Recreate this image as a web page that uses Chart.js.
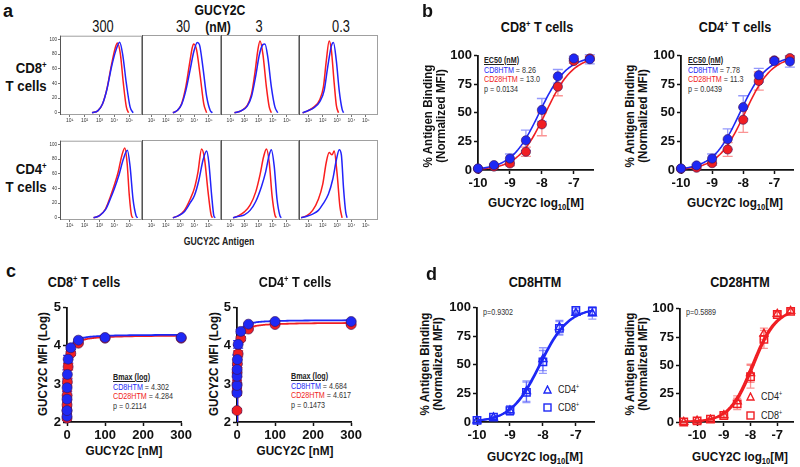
<!DOCTYPE html>
<html>
<head>
<meta charset="utf-8">
<script src="https://cdn.jsdelivr.net/npm/chart.js@4.4.1/dist/chart.umd.min.js"></script>
<style>
  body { margin: 0; width: 800px; height: 467px; overflow: hidden; position: relative; background: #fff;
         font-family: "Liberation Sans", Arial, sans-serif; color: #111; }
  canvas { position: absolute; }
  .t { position: absolute; white-space: nowrap; transform: translate(-50%, -50%) scaleX(0.87); font-weight: bold; line-height: 1; }
  .lt { position: absolute; font-weight: bold; font-size: 18px; line-height: 1; }
  .yt { position: absolute; white-space: nowrap; transform: translate(-50%, -50%) rotate(-90deg) scaleX(0.86); text-align: center;
        font-weight: bold; font-size: 13.5px; line-height: 12.5px; }
  .ann { position: absolute; white-space: nowrap; font-size: 9.2px; line-height: 9.6px; color: #333;
         transform-origin: left top; transform: scaleX(0.78); }
  .ann u { color: #222; font-weight: bold; }
  .b { color: rgb(30, 40, 245); }
  .r { color: rgb(240, 30, 35); }
  sup { font-size: 0.6em; vertical-align: 0.6em; line-height: 0; }
  sub { font-size: 0.65em; vertical-align: -0.35em; line-height: 0; }
  .rowlab { position: absolute; right: 753px; text-align: right; font-weight: bold; font-size: 15px; line-height: 18px;
            white-space: nowrap; transform-origin: right top; transform: scaleX(0.88); }
  .num { font-size: 16px; font-weight: normal; transform: translate(-50%, -50%) scaleX(0.8); }
</style>
</head>
<body>

<!-- panel a -->
<div class="lt" style="left:3px;top:2px">a</div>
<div class="t" style="left:220px;top:10px;font-size:14px">GUCY2C</div>
<div class="t" style="left:218px;top:27px;font-size:14px">(nM)</div>
<div class="t num" style="left:103px;top:27px">300</div>
<div class="t num" style="left:183px;top:27px">30</div>
<div class="t num" style="left:259px;top:27px">3</div>
<div class="t num" style="left:341px;top:27px">0.3</div>
<div class="rowlab" style="top:59px">CD8<sup>+</sup><br>T cells</div>
<div class="rowlab" style="top:160px">CD4<sup>+</sup><br>T cells</div>
<div class="t" style="left:219px;top:242px;font-size:10px;color:#222">GUCY2C Antigen</div>

<canvas id="h11"></canvas><canvas id="h12"></canvas><canvas id="h13"></canvas><canvas id="h14"></canvas>
<canvas id="h21"></canvas><canvas id="h22"></canvas><canvas id="h23"></canvas><canvas id="h24"></canvas>

<!-- panel b -->
<div class="lt" style="left:422px;top:2px">b</div>
<div class="t" style="left:537px;top:27px;font-size:14.5px">CD8<sup>+</sup> T cells</div>
<div class="t" style="left:735px;top:27px;font-size:14.5px">CD4<sup>+</sup> T cells</div>
<div class="yt" style="left:434px;top:116px">% Antigen Binding<br>(Normalized MFI)</div>
<div class="yt" style="left:636px;top:116px">% Antigen Binding<br>(Normalized MFI)</div>
<div class="t" style="left:536px;top:203px;font-size:13.5px">GUCY2C log<sub>10</sub>[M]</div>
<div class="t" style="left:735px;top:203px;font-size:13.5px">GUCY2C log<sub>10</sub>[M]</div>
<div class="ann" style="left:484px;top:56px"><u>EC50 (nM)</u><br><span class="b">CD8HTM</span> = 8.26<br><span class="r">CD28HTM</span> = 13.0<br>p = 0.0134</div>
<div class="ann" style="left:688px;top:56px"><u>EC50 (nM)</u><br><span class="b">CD8HTM</span> = 7.78<br><span class="r">CD28HTM</span> = 11.3<br>p = 0.0439</div>
<canvas id="b1"></canvas><canvas id="b2"></canvas>

<!-- panel c -->
<div class="lt" style="left:6px;top:262px">c</div>
<div class="t" style="left:84px;top:282px;font-size:14.5px">CD8<sup>+</sup> T cells</div>
<div class="t" style="left:295px;top:282px;font-size:14.5px">CD4<sup>+</sup> T cells</div>
<div class="yt" style="left:43px;top:364px">GUCY2C MFI (Log)</div>
<div class="yt" style="left:214px;top:364px">GUCY2C MFI (Log)</div>
<div class="t" style="left:124px;top:451px;font-size:13.5px">GUCY2C [nM]</div>
<div class="t" style="left:295px;top:451px;font-size:13.5px">GUCY2C [nM]</div>
<div class="ann" style="left:113px;top:373px"><u>Bmax (log)</u><br><span class="b">CD8HTM</span> = 4.302<br><span class="r">CD28HTM</span> = 4.284<br>p = 0.2114</div>
<div class="ann" style="left:291px;top:372px"><u>Bmax (log)</u><br><span class="b">CD8HTM</span> = 4.684<br><span class="r">CD28HTM</span> = 4.617<br>p = 0.1473</div>
<canvas id="c1"></canvas><canvas id="c2"></canvas>

<!-- panel d -->
<div class="lt" style="left:426px;top:265px">d</div>
<div class="t" style="left:535px;top:282px;font-size:14.5px">CD8HTM</div>
<div class="t" style="left:740px;top:282px;font-size:14.5px">CD28HTM</div>
<div class="yt" style="left:431px;top:364px">% Antigen Binding<br>(Normalized MFI)</div>
<div class="yt" style="left:636px;top:364px">% Antigen Binding<br>(Normalized MFI)</div>
<div class="t" style="left:535px;top:457px;font-size:13.5px">GUCY2C log<sub>10</sub>[M]</div>
<div class="t" style="left:740px;top:457px;font-size:13.5px">GUCY2C log<sub>10</sub>[M]</div>
<div class="ann" style="left:483px;top:308px">p=0.9302</div>
<div class="ann" style="left:686px;top:308px">p=0.5889</div>

<svg style="position:absolute;left:543px;top:385px" width="9" height="9"><polygon points="4.5,1 8,8 1,8" fill="none" stroke="rgb(30,40,245)" stroke-width="1.4"/></svg>
<div class="ann" style="left:558px;top:383px;font-size:11.5px;line-height:12px;color:#222">CD4<sup>+</sup></div>
<svg style="position:absolute;left:543px;top:403px" width="9" height="9"><rect x="1" y="1" width="7" height="7" fill="none" stroke="rgb(30,40,245)" stroke-width="1.4"/></svg>
<div class="ann" style="left:558px;top:401px;font-size:11.5px;line-height:12px;color:#222">CD8<sup>+</sup></div>

<svg style="position:absolute;left:746px;top:392px" width="9" height="9"><polygon points="4.5,1 8,8 1,8" fill="none" stroke="rgb(240,30,35)" stroke-width="1.4"/></svg>
<div class="ann" style="left:761px;top:390px;font-size:11.5px;line-height:12px;color:#222">CD4<sup>+</sup></div>
<svg style="position:absolute;left:746px;top:411px" width="9" height="9"><rect x="1" y="1" width="7" height="7" fill="none" stroke="rgb(240,30,35)" stroke-width="1.4"/></svg>
<div class="ann" style="left:761px;top:409px;font-size:11.5px;line-height:12px;color:#222">CD8<sup>+</sup></div>
<canvas id="d1"></canvas><canvas id="d2"></canvas>

<script>
  // ---- panel a: flow histograms, points are [log10 fluorescence, % of max]
  // one entry per column: 300, 30, 3, 0.3 nM GUCY2C
  const histTicks = [1, 2, 3, 4, 5];
  const histTickLabels = ['10¹', '10²', '10³', '10⁴', '10⁵'];
  const histPctTicks = [0, 20, 40, 60, 80, 100];

  const histCD8cellsCD28HTM = [
    [[2.5,0],[2.9,3],[3.2,12],[3.5,33],[3.8,65],[4.05,88],[4.2,95],[4.4,80],[4.6,40],[4.8,8],[4.95,0]],
    [[2.5,0],[2.8,3],[3.1,12],[3.4,35],[3.65,65],[3.85,88],[3.95,93],[4.15,85],[4.4,50],[4.65,12],[4.85,0]],
    [[1.3,0],[1.8,3],[2.2,10],[2.5,25],[2.75,55],[2.95,85],[3.1,97],[3.3,80],[3.55,35],[3.75,8],[3.9,0]],
    [[0.6,0],[1.0,3],[1.4,8],[1.8,18],[2.05,35],[2.25,70],[2.45,97],[2.6,85],[2.8,40],[2.95,10],[3.1,0]]
  ];
  const histCD8cellsCD8HTM = [
    [[2.5,0],[2.9,3],[3.2,12],[3.5,32],[3.8,62],[4.1,85],[4.35,96],[4.55,80],[4.8,40],[5.05,8],[5.25,0]],
    [[2.5,0],[2.8,3],[3.1,11],[3.4,30],[3.7,58],[3.95,82],[4.2,95],[4.35,92],[4.6,60],[4.85,22],[5.1,3],[5.25,0]],
    [[1.3,0],[1.8,3],[2.2,9],[2.5,22],[2.8,50],[3.05,78],[3.3,92],[3.45,93],[3.65,75],[3.9,35],[4.15,8],[4.35,0]],
    [[0.6,0],[1.0,3],[1.4,7],[1.8,15],[2.1,30],[2.35,62],[2.6,90],[2.75,95],[2.95,70],[3.15,30],[3.35,5],[3.45,0]]
  ];
  const histCD4cellsCD28HTM = [
    [[2.6,0],[3.0,3],[3.4,12],[3.75,30],[4.0,45],[4.25,62],[4.5,85],[4.7,95],[4.85,75],[5.0,30],[5.15,3],[5.25,0]],
    [[2.5,0],[2.9,3],[3.3,10],[3.7,25],[4.0,40],[4.25,62],[4.5,93],[4.7,80],[4.95,35],[5.15,5],[5.25,0]],
    [[1.2,0],[1.6,3],[2.0,8],[2.4,17],[2.8,35],[3.1,58],[3.35,82],[3.55,93],[3.75,75],[3.95,30],[4.15,4],[4.25,0]],
    [[0.5,0],[0.9,3],[1.3,10],[1.7,25],[2.0,45],[2.25,75],[2.45,88],[2.65,85],[2.8,90],[3.0,60],[3.2,15],[3.35,0]]
  ];
  const histCD4cellsCD8HTM = [
    [[2.6,0],[3.0,3],[3.4,11],[3.75,27],[4.0,40],[4.3,58],[4.6,80],[4.87,92],[5.05,70],[5.25,25],[5.45,3],[5.55,0]],
    [[2.5,0],[2.9,3],[3.3,8],[3.7,20],[4.0,30],[4.3,50],[4.6,78],[4.85,90],[5.0,75],[5.2,30],[5.35,3],[5.45,0]],
    [[1.2,0],[1.6,2],[2.0,4],[2.4,10],[2.8,22],[3.2,42],[3.5,62],[3.75,85],[3.9,92],[4.1,70],[4.3,25],[4.5,3],[4.6,0]],
    [[0.5,0],[0.9,2],[1.3,5],[1.7,10],[2.0,18],[2.4,32],[2.7,52],[2.95,78],[3.15,92],[3.3,85],[3.45,40],[3.6,8],[3.7,0]]
  ];

  // ---- panels b/d: antigen binding vs log10 concentration
  const logConc = [-10, -9.5, -9, -8.5, -8, -7.5, -7, -6.5];
  const cd8cellsCD8HTM     = [1.4, 4.3, 10, 26, 52.6, 82, 97.7, 97];
  const cd8cellsCD8HTMerr  = [0.5, 1, 4, 9, 10, 6, 2, 4];
  const cd8cellsCD28HTM    = [1, 3, 5.7, 16, 40, 73, 95.4, 97.7];
  const cd8cellsCD28HTMerr = [0.5, 1, 2, 4, 10, 8, 2, 2];
  const cd4cellsCD8HTM     = [1.4, 4, 10, 27, 55, 83, 95.5, 95];
  const cd4cellsCD8HTMerr  = [0.5, 1, 4, 9, 10, 6, 2, 5];
  const cd4cellsCD28HTM    = [1, 2, 6, 18, 44, 78, 96, 98];
  const cd4cellsCD28HTMerr = [0.5, 1, 2, 6, 11, 8, 2, 2];
  // panel d (CD28HTM) also has a 0.03 nM point
  const logConcD2 = [-10.5, -10, -9.5, -9, -8.5, -8, -7.5, -7, -6.5];
  const d2cd8cells    = [0, 1, 2.5, 5.7, 16, 40, 73, 95, 97.7];
  const d2cd8cellsErr = [0.3, 0.5, 1, 2, 5, 10, 8, 2, 2];
  const d2cd4cells    = [0, 1, 2, 6, 18, 43, 78, 95.5, 98];
  const d2cd4cellsErr = [0.3, 0.5, 1, 2, 5, 8, 5, 2, 2];
  // fitted EC50 (nM): [CD8HTM, CD28HTM]
  const ec50CD8cells = [8.26, 13.0];
  const ec50CD4cells = [7.78, 11.3];

  // ---- panel c: MFI (log) vs concentration
  const concNM = [0.01, 0.03, 0.1, 0.3, 1, 3, 10, 30, 100, 300];
  const mfiCD8cellsCD8HTM  = [2.15, 2.3, 2.6, 2.9, 3.25, 3.65, 3.95, 4.15, 4.22, 4.22];
  const mfiCD8cellsCD28HTM = [2.1, 2.3, 2.45, 2.7, 3.05, 3.45, 3.8, 4.07, 4.2, 4.2];
  const mfiCD4cellsCD8HTM  = [2.76, 2.96, 3.2, 3.38, 3.64, 4.04, 4.38, 4.57, 4.64, 4.64];
  const mfiCD4cellsCD28HTM = [2.3, 2.8, 3.0, 3.3, 3.53, 3.79, 4.19, 4.44, 4.56, 4.56];
  const mfiErrBlue = [0.05, 0.08, 0.1, 0.1, 0.12, 0.1, 0.05, 0.02, 0.02, 0.02];
  const mfiErrRed  = [0.05, 0.1, 0.1, 0.12, 0.1, 0.08, 0.05, 0.02, 0.02, 0.02];
  // one-site fit: Bmax from the figure, Kd (nM) estimated
  const bmaxCD8cells = [4.302, 4.284];
  const bmaxCD4cells = [4.684, 4.617];
  const kdCD8cells = [0.89, 1.27];
  const kdCD4cells = [0.69, 1.02];

  const BLUE = 'rgb(30,40,245)', RED = 'rgb(240,30,35)';
  const BLUE_E = 'rgba(60,70,250,0.55)', RED_E = 'rgba(245,60,60,0.55)';

  Chart.defaults.font.family = '"Liberation Sans", Arial, sans-serif';
  Chart.defaults.color = '#111';

  function place(id, area, pad) {
    const c = document.getElementById(id);
    const w = area[2] - area[0] + pad[0] + pad[2];
    const h = area[3] - area[1] + pad[1] + pad[3];
    c.style.left = (area[0] - pad[0]) + 'px';
    c.style.top = (area[1] - pad[1]) + 'px';
    c.width = w; c.height = h;
    c.style.width = w + 'px'; c.style.height = h + 'px';
    return c;
  }

  const frame = {
    id: 'frame',
    afterDraw(chart) {
      const a = chart.chartArea, ctx = chart.ctx;
      ctx.save();
      ctx.strokeStyle = '#a0a0a0'; ctx.lineWidth = 1;
      ctx.strokeRect(a.left + 0.5, a.top + 0.5, a.width - 1, a.height - 1);
      ctx.strokeStyle = '#555';
      ctx.beginPath(); ctx.moveTo(a.left + 0.5, a.top); ctx.lineTo(a.left + 0.5, a.bottom); ctx.stroke();
      ctx.restore();
    }
  };

  const errorBars = {
    id: 'errorBars',
    beforeDatasetsDraw(chart) {
      const ctx = chart.ctx, ys = chart.scales.y;
      chart.data.datasets.forEach((ds, i) => {
        if (!ds.errors) return;
        const meta = chart.getDatasetMeta(i);
        ctx.save();
        ctx.strokeStyle = ds.errColor; ctx.lineWidth = 1.3;
        meta.data.forEach((pt, j) => {
          const e = ds.errors[j];
          if (!e) return;
          const v = ds.data[j].y;
          const y1 = ys.getPixelForValue(v + e), y2 = ys.getPixelForValue(v - e);
          const cw = ds.capHalf;
          ctx.beginPath();
          ctx.moveTo(pt.x, y1); ctx.lineTo(pt.x, y2);
          ctx.moveTo(pt.x - cw, y1); ctx.lineTo(pt.x + cw, y1);
          ctx.moveTo(pt.x - cw, y2); ctx.lineTo(pt.x + cw, y2);
          ctx.stroke();
        });
        ctx.restore();
      });
    }
  };

  function histLine(pts, color) {
    return {
      data: pts.map(p => ({ x: p[0], y: p[1] })),
      showLine: true, pointRadius: 0, borderColor: color, borderWidth: 1.5,
      cubicInterpolationMode: 'monotone', fill: false
    };
  }

  function histChart(id, area, showY, red, blue) {
    const pad = [showY ? 12 : 0, 3, 1, 12];
    const c = place(id, area, pad);
    new Chart(c, {
      type: 'scatter',
      data: { datasets: [histLine(blue, 'rgb(35,35,250)'), histLine(red, 'rgb(250,30,30)')] },
      options: {
        responsive: false, animation: false,
        layout: { padding: { left: 0, top: pad[1], right: pad[2], bottom: 0 } },
        plugins: { legend: { display: false }, tooltip: { enabled: false } },
        scales: {
          x: {
            min: 0.35, max: 5.85,
            afterFit: s => { s.height = pad[3]; },
            afterBuildTicks: s => { s.ticks = histTicks.map(v => ({ value: v })); },
            grid: { drawOnChartArea: false, tickLength: 2, color: '#777' },
            border: { display: false },
            ticks: { font: { size: 5 }, padding: 1, color: '#333', maxRotation: 0, autoSkip: false,
                     callback: v => histTickLabels[histTicks.indexOf(v)] }
          },
          y: {
            display: showY, min: -3, max: 105,
            afterFit: s => { s.width = pad[0]; },
            afterBuildTicks: s => { s.ticks = histPctTicks.map(v => ({ value: v })); },
            grid: { drawOnChartArea: false, tickLength: 2, color: '#777' },
            border: { display: false },
            ticks: { font: { size: 4.5 }, padding: 1, color: '#333' }
          }
        }
      },
      plugins: [frame]
    });
  }

  const histCols = [[60, 142], [142, 221], [221, 299], [299, 378]];
  ['h11', 'h12', 'h13', 'h14'].forEach((id, k) =>
    histChart(id, [histCols[k][0], 35, histCols[k][1], 115], k === 0, histCD8cellsCD28HTM[k], histCD8cellsCD8HTM[k]));
  ['h21', 'h22', 'h23', 'h24'].forEach((id, k) =>
    histChart(id, [histCols[k][0], 140, histCols[k][1], 220], k === 0, histCD4cellsCD28HTM[k], histCD4cellsCD8HTM[k]));

  // ---- prism-style charts
  function axis(s, size, dir) {
    return {
      type: 'linear', min: s.min, max: s.max,
      afterFit: sc => { if (dir === 'x') sc.height = size; else sc.width = size; },
      afterBuildTicks: sc => { sc.ticks = s.ticks.map(v => ({ value: v })); },
      grid: { display: true, drawOnChartArea: false, drawTicks: true, tickLength: 4, tickWidth: 1.5, tickColor: '#111' },
      border: { display: true, color: '#111', width: 1.8 },
      ticks: { color: '#111', font: { size: 13, weight: 'bold' }, padding: 2, maxRotation: 0, autoSkip: false,
               callback: v => String(v) }
    };
  }

  function prism(id, area, xs, ys, datasets) {
    const pad = [40, 8, Math.min(12, 800 - area[2]), 22];
    const c = place(id, area, pad);
    return new Chart(c, {
      type: 'scatter',
      data: { datasets },
      options: {
        responsive: false, animation: false,
        layout: { padding: { left: 0, top: pad[1], right: pad[2], bottom: 0 } },
        plugins: { legend: { display: false }, tooltip: { enabled: false } },
        scales: { x: axis(xs, pad[3], 'x'), y: axis(ys, pad[0], 'y') }
      },
      plugins: [errorBars]
    });
  }

  function points(xs, ys, errs, color, errColor, opts) {
    return Object.assign({
      data: xs.map((x, i) => ({ x, y: ys[i] })),
      errors: errs, errColor, capHalf: 5,
      showLine: false, clip: false,
      pointStyle: 'circle', pointRadius: 4.6,
      pointBackgroundColor: color, pointBorderColor: 'rgba(60,20,90,0.8)', pointBorderWidth: 0.8
    }, opts);
  }

  function curve(data, color, order, width) {
    return { data, showLine: true, pointRadius: 0, borderColor: color, borderWidth: width || 1.6,
             fill: false, order };
  }

  // four-parameter logistic, bottom 0, top 100, Hill slope 1
  function sigmoid(ec50nM, x0, x1) {
    const out = [];
    const logEc = Math.log10(ec50nM * 1e-9);
    for (let x = x0; x <= x1 + 1e-9; x += 0.05) out.push({ x, y: 100 / (1 + Math.pow(10, logEc - x)) });
    return out;
  }
  // one-site specific binding
  function saturation(bmax, kd) {
    const out = [];
    for (let k = 0; k <= 160; k++) {
      const x = 0.3 * Math.pow(1000, k / 160);
      out.push({ x, y: bmax * x / (kd + x) });
    }
    return out;
  }

  const xsB = { min: -10, max: -6.4, ticks: [-10, -9, -8, -7] };
  const ysB = { min: 0, max: 100, ticks: [0, 25, 50, 75, 100] };

  prism('b1', [478, 54, 593, 170], xsB, ysB, [
    points(logConc, cd8cellsCD8HTM, cd8cellsCD8HTMerr, BLUE, BLUE_E, { order: 0 }),
    points(logConc, cd8cellsCD28HTM, cd8cellsCD28HTMerr, RED, RED_E, { order: 1 }),
    curve(sigmoid(ec50CD8cells[0], -10, -6.5), BLUE, 2),
    curve(sigmoid(ec50CD8cells[1], -10, -6.5), RED, 3)
  ]);
  prism('b2', [681, 54, 793, 170], xsB, ysB, [
    points(logConc, cd4cellsCD8HTM, cd4cellsCD8HTMerr, BLUE, BLUE_E, { order: 0 }),
    points(logConc, cd4cellsCD28HTM, cd4cellsCD28HTMerr, RED, RED_E, { order: 1 }),
    curve(sigmoid(ec50CD4cells[0], -10, -6.5), BLUE, 2),
    curve(sigmoid(ec50CD4cells[1], -10, -6.5), RED, 3)
  ]);

  const xsC = { min: 0, max: 300, ticks: [0, 100, 200, 300] };
  const ysC = { min: 2, max: 5, ticks: [2, 3, 4, 5] };
  prism('c1', [67, 306, 182, 422], xsC, ysC, [
    points(concNM, mfiCD8cellsCD8HTM, mfiErrBlue, BLUE, BLUE, { order: 0, pointRadius: 5 }),
    points(concNM, mfiCD8cellsCD28HTM, mfiErrRed, RED, RED, { order: 1, pointRadius: 5 }),
    curve(saturation(bmaxCD8cells[0], kdCD8cells[0]), BLUE, 2, 1.8),
    curve(saturation(bmaxCD8cells[1], kdCD8cells[1]), RED, 3, 1.8)
  ]);
  prism('c2', [237, 306, 352, 422], xsC, ysC, [
    points(concNM, mfiCD4cellsCD8HTM, mfiErrBlue, BLUE, BLUE, { order: 0, pointRadius: 5 }),
    points(concNM, mfiCD4cellsCD28HTM, mfiErrRed, RED, RED, { order: 1, pointRadius: 5 }),
    curve(saturation(bmaxCD4cells[0], kdCD4cells[0]), BLUE, 2, 1.8),
    curve(saturation(bmaxCD4cells[1], kdCD4cells[1]), RED, 3, 1.8)
  ]);

  const open = (color, style, r) => ({
    pointStyle: style, pointRadius: r, pointBackgroundColor: 'rgba(255,255,255,0)',
    pointBorderColor: color, pointBorderWidth: 1.5, capHalf: 4
  });
  prism('d1', [477, 306, 594, 422], { min: -10, max: -6.45, ticks: [-10, -9, -8, -7] }, ysB, [
    points(logConc, cd8cellsCD8HTM, cd8cellsCD8HTMerr, BLUE, BLUE_E, Object.assign(open(BLUE, 'rect', 5.2), { order: 0 })),
    points(logConc, cd4cellsCD8HTM, cd4cellsCD8HTMerr, BLUE, BLUE_E, Object.assign(open(BLUE, 'triangle', 4.5), { order: 1 })),
    curve(sigmoid(ec50CD8cells[0], -10, -6.5), BLUE, 2, 2),
    curve(sigmoid(ec50CD4cells[0], -10, -6.5), BLUE, 3, 2)
  ]);
  prism('d2', [680, 307, 799, 422], { min: -10.64, max: -6.4, ticks: [-10, -9, -8, -7] }, ysB, [
    points(logConcD2, d2cd8cells, d2cd8cellsErr, RED, RED_E, Object.assign(open(RED, 'rect', 5.2), { order: 0 })),
    points(logConcD2, d2cd4cells, d2cd4cellsErr, RED, RED_E, Object.assign(open(RED, 'triangle', 4.5), { order: 1 })),
    curve(sigmoid(ec50CD8cells[1], -10.5, -6.5), RED, 2, 2),
    curve(sigmoid(ec50CD4cells[1], -10.5, -6.5), RED, 3, 2)
  ]);
</script>
</body>
</html>
